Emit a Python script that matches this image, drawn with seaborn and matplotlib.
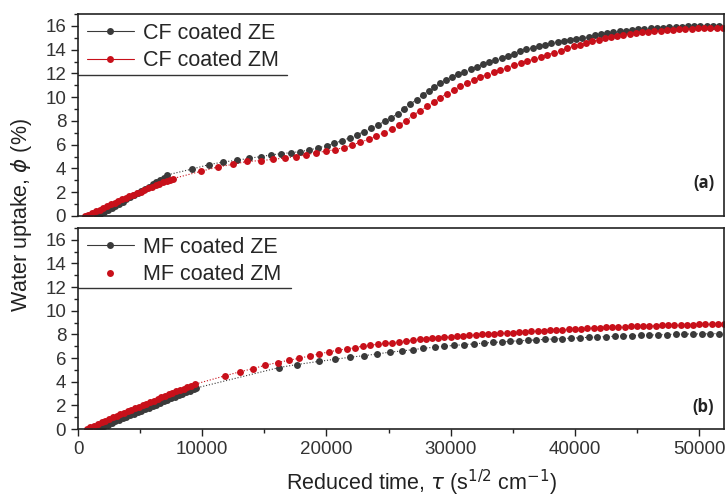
import numpy as np
import pandas as pd
import seaborn as sns
import matplotlib.pyplot as plt
from matplotlib.lines import Line2D
from matplotlib.ticker import MultipleLocator

# Panel (a): CF coated samples
cf_ze_x = [1500, 1800, 2100, 2400, 2700, 3000, 3300, 3600, 3900, 4200, 4500, 4800, 5100, 5400, 5700,
           6000, 6300, 6600, 6900, 7150,
           9210, 10530, 11710, 12790, 13780, 14720, 15530, 16380, 17140, 17890, 18610, 19340, 20010,
           20630, 21270, 21860, 22450, 23050, 23580, 24150, 24680, 25220, 25730, 26240, 26750, 27290,
           27740, 28230, 28690, 29170, 29650, 30100, 30600, 31100, 31600, 32100, 32600, 33100, 33600,
           34100, 34600, 35100, 35600, 36100, 36600, 37100, 37600, 38100, 38600, 39100, 39600, 40100,
           40600, 41100, 41600, 42100, 42600, 43100, 43600, 44100, 44600, 45100, 45600, 46100, 46600,
           47100, 47600, 48100, 48600, 49100, 49600, 50100, 50600, 51100, 51600]
cf_ze_y = [0.0, 0.16, 0.33, 0.5, 0.68, 0.86, 1.04, 1.22, 1.4, 1.58, 1.76, 1.94, 2.12, 2.3, 2.48,
           2.66, 2.84, 3.02, 3.2, 3.45,
           3.96, 4.32, 4.55, 4.69, 4.86, 5.0, 5.14, 5.25, 5.33, 5.42, 5.56, 5.73, 5.92,
           6.12, 6.34, 6.57, 6.85, 7.1, 7.41, 7.66, 7.97, 8.28, 8.59, 9.04, 9.45, 9.8,
           10.2, 10.55, 10.89, 11.17, 11.45, 11.7, 11.95, 12.15, 12.35, 12.57, 12.77, 12.95, 13.15,
           13.33, 13.5, 13.66, 13.85, 14.02, 14.15, 14.3, 14.43, 14.55, 14.68, 14.75, 14.85, 14.92,
           15.0, 15.1, 15.2, 15.3, 15.38, 15.46, 15.53, 15.6, 15.65, 15.7, 15.75, 15.79, 15.83,
           15.86, 15.89, 15.91, 15.93, 15.95, 15.97, 15.98, 16.0, 16.01, 16.02]

cf_zm_x = [540, 840, 1140, 1440, 1740, 2040, 2340, 2640, 2940, 3240, 3540, 3840, 4140, 4440, 4740,
           5040, 5340, 5640, 5940, 6240, 6540, 6840, 7140, 7440, 7650,
           9890, 11280, 12490, 13640, 14720, 15690, 16650, 17510, 18350, 19150, 19930, 20650, 21380,
           22050, 22720, 23390, 24010, 24630, 25250, 25840, 26410, 26970, 27530, 28100, 28630, 29170,
           29700, 30240, 30780, 31320, 31850, 32390, 32920, 33460, 34000, 34540, 35080, 35620, 36150,
           36690, 37230, 37770, 38300, 38840, 39370, 39910,
           40400, 40900, 41400, 41900, 42400, 42900, 43400, 43900, 44400, 44900, 45400, 45900, 46400,
           46900, 47400, 47900, 48400, 48900, 49400, 49900, 50400, 50900, 51400, 51900]
cf_zm_y = [0.0, 0.12, 0.26, 0.4, 0.54, 0.68, 0.82, 0.97, 1.11, 1.25, 1.39, 1.53, 1.67, 1.8, 1.93,
           2.06, 2.19, 2.32, 2.45, 2.58, 2.71, 2.84, 2.96, 3.07, 3.15,
           3.76, 4.13, 4.35, 4.6, 4.66, 4.77, 4.88, 5.0, 5.14, 5.33, 5.45, 5.58, 5.75,
           5.98, 6.2, 6.46, 6.71, 7.01, 7.33, 7.66, 8.03, 8.48, 8.84, 9.22, 9.6, 9.96,
           10.3, 10.61, 10.9, 11.17, 11.45, 11.7, 11.9, 12.1, 12.3, 12.49, 12.68, 12.86, 13.03,
           13.2, 13.38, 13.56, 13.74, 13.92, 14.1, 14.27,
           14.4, 14.55, 14.7, 14.85, 14.97, 15.08, 15.18, 15.26, 15.33, 15.4, 15.46, 15.52, 15.57,
           15.61, 15.65, 15.68, 15.71, 15.74, 15.76, 15.78, 15.8, 15.82, 15.83, 15.85]

# Panel (b): MF coated samples
mf_ze_x = [1500, 1800, 2100, 2400, 2700, 3000, 3300, 3600, 3900, 4200, 4500, 4800, 5100, 5400,
           5700, 6000, 6300, 6600, 6900, 7200, 7500, 7800, 8100, 8400, 8700, 9000, 9300, 9530,
           16200, 17600, 19400, 20700, 21900, 23000, 24100, 25100, 26100, 27000, 27800, 28700,
           29500, 30300, 31100, 31900, 32700,
           33400, 34100, 34800, 35500, 36200, 36900, 37600, 38300, 39000, 39700, 40400, 41100,
           41800, 42500, 43200, 43900, 44600, 45300, 46000, 46700, 47400, 48100, 48800, 49500,
           50200, 50900, 51600]
mf_ze_y = [0.0, 0.12, 0.25, 0.38, 0.51, 0.64, 0.77, 0.9, 1.03, 1.16, 1.29, 1.42, 1.55, 1.68,
           1.81, 1.94, 2.07, 2.2, 2.33, 2.46, 2.59, 2.72, 2.85, 2.98, 3.11, 3.24, 3.37, 3.47,
           5.2, 5.45, 5.72, 5.9, 6.07, 6.2, 6.35, 6.5, 6.6, 6.72, 6.82, 6.92,
           7.0, 7.07, 7.14, 7.2, 7.27,
           7.32, 7.37, 7.42, 7.46, 7.5, 7.54, 7.58, 7.62, 7.65, 7.68, 7.72, 7.75,
           7.78, 7.81, 7.84, 7.87, 7.9, 7.93, 7.95, 7.97, 7.99, 8.01, 8.03, 8.04,
           8.05, 8.06, 8.07]

mf_zm_x = [700, 1000, 1300, 1600, 1900, 2200, 2500, 2800, 3100, 3400, 3700, 4000, 4300, 4600,
           4900, 5200, 5500, 5800, 6100, 6400, 6700, 7000, 7300, 7600, 7900, 8200, 8500, 8800,
           9100, 9450,
           11800, 13000, 14050, 15070, 16060, 16950, 17810, 18640, 19420, 20170, 20900, 21620,
           22270, 22910, 23530, 24150, 24740, 25300, 25850, 26400, 26950, 27500, 28000, 28500,
           29000, 29500, 30000, 30500, 31000, 31500, 32000, 32500,
           33000, 33500, 34000, 34500, 35000, 35500, 36000, 36500, 37000, 37500, 38000, 38500,
           39000, 39500, 40000, 40500, 41000, 41500, 42000, 42500, 43000, 43500, 44000, 44500,
           45000, 45500, 46000, 46500, 47000, 47500, 48000, 48500, 49000, 49500, 50000, 50500,
           51000, 51500, 52000]
mf_zm_y = [0.0, 0.14, 0.28, 0.42, 0.56, 0.7, 0.84, 0.98, 1.11, 1.24, 1.37, 1.5, 1.63, 1.76,
           1.89, 2.02, 2.15, 2.28, 2.41, 2.54, 2.67, 2.8, 2.93, 3.06, 3.18, 3.3, 3.42, 3.54,
           3.66, 3.8,
           4.49, 4.83, 5.1, 5.39, 5.62, 5.81, 5.98, 6.18, 6.35, 6.52, 6.66, 6.77,
           6.88, 7.0, 7.09, 7.17, 7.24, 7.31, 7.38, 7.45, 7.51, 7.57, 7.62, 7.67,
           7.72, 7.77, 7.82, 7.86, 7.9, 7.94, 7.98, 8.01,
           8.04, 8.07, 8.1, 8.13, 8.16, 8.19, 8.22, 8.25, 8.28, 8.31, 8.34, 8.37,
           8.4, 8.43, 8.46, 8.49, 8.52, 8.55, 8.57, 8.6, 8.62, 8.64, 8.66, 8.68,
           8.7, 8.72, 8.74, 8.75, 8.77, 8.78, 8.8, 8.81, 8.82, 8.83, 8.84, 8.85,
           8.86, 8.87, 8.88]

DARK = '#3a3a3a'
RED = '#c8101a'
MS = 5.0

sns.set_theme(style='ticks')
plt.rcParams['font.family'] = ['Liberation Sans', 'DejaVu Sans']
plt.rcParams['mathtext.fontset'] = 'dejavusans'


def draw(ax, x, y, color):
    sns.lineplot(x=x, y=y, ax=ax, color=color, sort=False, estimator=None,
                 linestyle=':', linewidth=0.8, marker='o', markersize=MS,
                 markeredgewidth=0, markeredgecolor=color)


def style(ax):
    ax.set_xlim(0, 52000)
    ax.set_ylim(0, 17)
    ax.set_xlabel('')
    ax.set_ylabel('')
    ax.yaxis.set_major_locator(MultipleLocator(2))
    ax.yaxis.set_minor_locator(MultipleLocator(1))
    ax.xaxis.set_major_locator(MultipleLocator(10000))
    ax.xaxis.set_minor_locator(MultipleLocator(5000))
    ax.tick_params(which='major', direction='out', length=5, width=1,
                   labelsize=13.5, labelcolor='#333333', color='#222222')
    ax.tick_params(which='minor', direction='out', length=3, width=1, color='#222222')
    for sp in ax.spines.values():
        sp.set_visible(True)
        sp.set_linewidth(1.2)
        sp.set_color('#222222')


fig = plt.figure(figsize=(7.25, 5), dpi=100)
ax_a = fig.add_axes([0.1076, 0.568, 0.891, 0.404])
ax_b = fig.add_axes([0.1076, 0.142, 0.891, 0.402])

draw(ax_a, cf_ze_x, cf_ze_y, DARK)
draw(ax_a, cf_zm_x, cf_zm_y, RED)
draw(ax_b, mf_ze_x, mf_ze_y, DARK)
draw(ax_b, mf_zm_x, mf_zm_y, RED)

style(ax_a)
style(ax_b)
ax_a.tick_params(axis='x', which='both', bottom=False, labelbottom=False)

# legends
h_ze = Line2D([], [], color=DARK, lw=0.8, marker='o', ms=MS, mew=0)
h_zm = Line2D([], [], color=RED, lw=0.8, marker='o', ms=MS, mew=0)
h_zm_dot = Line2D([], [], color=RED, lw=0, marker='o', ms=MS, mew=0)
leg_kw = dict(loc='upper left', frameon=False, fontsize=15.5, handlelength=2.2,
              handletextpad=0.42, borderaxespad=0.1, borderpad=0.3, labelspacing=0.3)
ax_a.legend([h_ze, h_zm], ['CF coated ZE', 'CF coated ZM'], **leg_kw)
ax_b.legend([h_ze, h_zm_dot], ['MF coated ZE', 'MF coated ZM'], **leg_kw)
ax_a.plot([0, 0.3235], [0.698, 0.698], transform=ax_a.transAxes, color='#333333', lw=1)
ax_b.plot([0, 0.329], [0.70, 0.70], transform=ax_b.transAxes, color='#333333', lw=1)

ax_a.text(0.985, 0.165, '(a)', transform=ax_a.transAxes, ha='right', va='center',
          fontsize=12, fontweight='bold', family='Open Sans', color='#222222')
ax_b.text(0.985, 0.11, '(b)', transform=ax_b.transAxes, ha='right', va='center',
          fontsize=12, fontweight='bold', family='Open Sans', color='#222222')

fig.text(0.03, 0.57, r'Water uptake, $\phi$ (%)', rotation=90, ha='center', va='center',
         fontsize=15.5, color='#222222')
fig.text(0.582, 0.034, r'Reduced time, $\tau$ (s$^{1/2}$ cm$^{-1}$)', ha='center', va='center',
         fontsize=15.5, color='#222222')

fig.savefig('out.png', dpi=100)
